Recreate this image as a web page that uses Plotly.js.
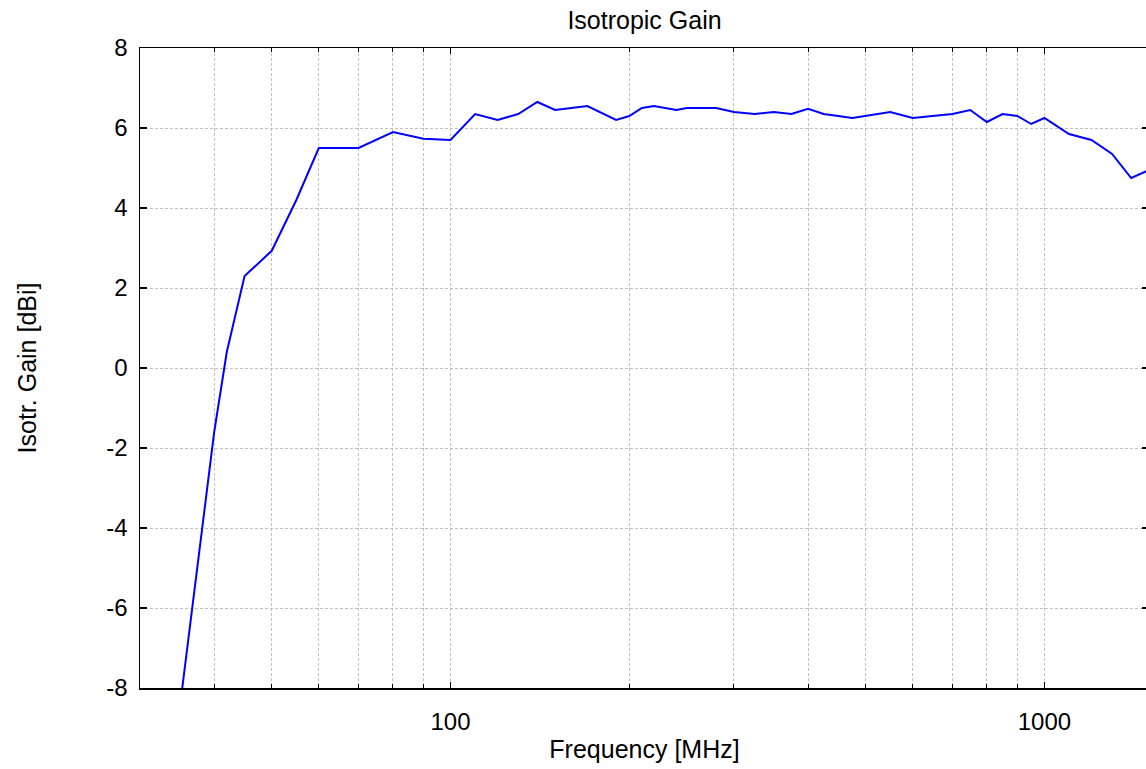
<!DOCTYPE html>
<html>
<head>
<meta charset="utf-8">
<script src="https://cdn.plot.ly/plotly-3.0.1.min.js"></script>
<style>
html, body { margin: 0; padding: 0; overflow: hidden; background: #fff; }
#chart { width: 1160px; height: 769px; }
</style>
</head>
<body>
<div id="chart"></div>
<script>
// Frequency in MHz
const freq = [35, 40, 42, 45, 50, 55, 60, 70, 80, 90, 100, 110, 120, 130, 140, 150, 170, 180, 190, 200,
              210, 220, 240, 250, 280, 300, 325, 350, 375, 400, 425, 475, 550, 600, 700, 750, 800, 850,
              900, 950, 1000, 1100, 1200, 1300, 1400, 1500];
// Isotropic gain in dBi
const gain = [-8.5, -1.6, 0.4, 2.3, 2.93, 4.2, 5.5, 5.5, 5.9, 5.73, 5.7, 6.35, 6.2, 6.35, 6.65, 6.45, 6.55, 6.38, 6.2, 6.3,
              6.5, 6.55, 6.45, 6.5, 6.5, 6.4, 6.35, 6.4, 6.35, 6.48, 6.35, 6.25, 6.4, 6.25, 6.35, 6.45, 6.15, 6.35,
              6.3, 6.1, 6.25, 5.85, 5.7, 5.35, 4.75, 4.95];

const xMajorTicks = [100, 1000];
const xMinorTicks = [40, 50, 60, 70, 80, 90, 200, 300, 400, 500, 600, 700, 800, 900];
const yTicks = [-8, -6, -4, -2, 0, 2, 4, 6, 8];

const FONT = '"Liberation Sans", Arial, sans-serif';
const gridCol = '#c0c0c0';

const trace = {
  x: freq, y: gain, type: 'scatter', mode: 'lines',
  line: { color: '#0000ff', width: 2 },
  hoverinfo: 'x+y'
};

const layout = {
  width: 1160, height: 769,
  margin: { l: 140, r: 11, t: 48, b: 81 },
  paper_bgcolor: '#ffffff', plot_bgcolor: '#ffffff',
  font: { family: FONT, size: 24, color: '#000' },
  showlegend: false,
  title: { text: 'Isotropic Gain', font: { family: FONT, size: 25, color: '#000' },
           xref: 'paper', x: 0.5, xanchor: 'center', yref: 'container', y: 1 - 20/769, yanchor: 'middle' },
  xaxis: {
    type: 'log', range: [Math.log10(30), Math.log10(1500)],
    tickmode: 'array', tickvals: xMajorTicks, ticktext: xMajorTicks.map(String),
    ticks: 'inside', ticklen: 6, tickwidth: 1.5, tickcolor: '#000',
    ticklabelstandoff: 12,
    showline: true, linecolor: '#000', linewidth: 1.5, mirror: 'ticks',
    showgrid: true, gridcolor: gridCol, gridwidth: 1, griddash: '3px,2px',
    zeroline: false,
    minor: { tickvals: xMinorTicks, ticks: 'inside', ticklen: 4, tickwidth: 1, tickcolor: '#000',
             showgrid: true, gridcolor: gridCol, gridwidth: 1, griddash: '3px,2px' },
    tickfont: { family: FONT, size: 24 },
    title: { text: 'Frequency [MHz]', standoff: 6, font: { family: FONT, size: 25 } }
  },
  yaxis: {
    range: [-8, 8],
    tickmode: 'array', tickvals: yTicks, ticktext: yTicks.map(String),
    ticks: 'inside', ticklen: 7, tickwidth: 1.5, tickcolor: '#000',
    ticklabelstandoff: 6,
    showline: true, linecolor: '#000', linewidth: 1.5, mirror: 'ticks',
    showgrid: true, gridcolor: gridCol, gridwidth: 1, griddash: '3px,2px',
    zeroline: false,
    tickfont: { family: FONT, size: 24 },
    title: { text: 'Isotr. Gain [dBi]', standoff: 62, font: { family: FONT, size: 25 } }
  }
};

Plotly.newPlot('chart', [trace], layout, { displayModeBar: false, staticPlot: true });
</script>
</body>
</html>
